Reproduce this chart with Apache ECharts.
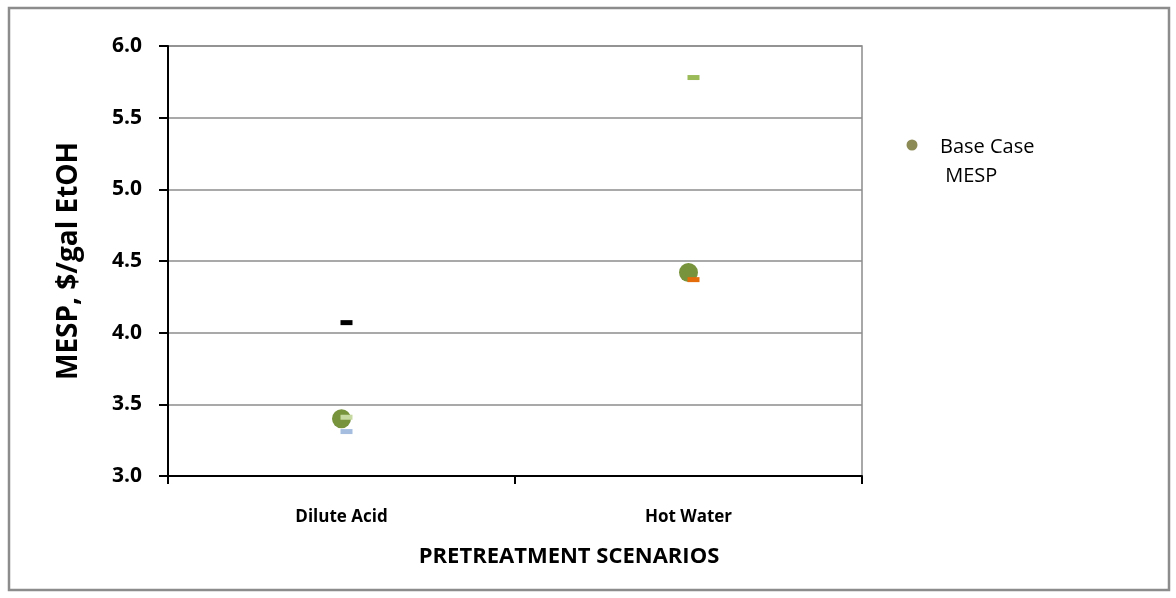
<!DOCTYPE html>
<html>
<head>
<meta charset="utf-8">
<script src="https://cdn.jsdelivr.net/npm/echarts@6/dist/echarts.min.js"></script>
<style>
  html, body { margin: 0; padding: 0; background: #fff; }
  #chart { width: 1176px; height: 598px; }
</style>
</head>
<body>
<div id="chart"></div>
<script>
// Pretreatment scenarios on the category axis
const categories = ['Dilute Acid', 'Hot Water'];
// Base case minimum ethanol selling price, $/gal
const baseCaseMESP = [3.40, 4.42];
// Individual case markers (null where a scenario has no marker)
const caseBlack = [4.07, null];
const casePaleGreen = [3.41, null];
const caseBlue = [3.31, null];
const caseOrange = [null, 4.37];
const caseGreen = [null, 5.78];
// Y axis range and step
const yMin = 3.0, yMax = 6.0, yStep = 0.5;

const FONT = 'Open Sans';

function pairs(vals) {
  return vals.map((v, i) => [categories[i], v]);
}

function dashSeries(name, vals, color) {
  return {
    name: name,
    type: 'scatter',
    data: pairs(vals),
    symbol: 'rect',
    symbolSize: [12, 5],
    symbolOffset: [5, 0],
    itemStyle: { color: color, opacity: 1 },
    z: 3
  };
}

const chart = echarts.init(document.getElementById('chart'));
chart.setOption({
  animation: false,
  backgroundColor: '#fff',
  graphic: [
    {
      type: 'rect',
      shape: { x: 9, y: 8, width: 1160, height: 582 },
      style: { fill: 'none', stroke: '#8c8c8c', lineWidth: 2.5 },
      silent: true
    },
    // Legend entry for the base case series
    {
      type: 'circle',
      shape: { cx: 912, cy: 145, r: 5.5 },
      style: { fill: '#8c8a55' },
      silent: true
    },
    {
      type: 'text',
      left: 940, top: 133,
      style: {
        text: 'Base Case\n MESP',
        font: '20px "Open Sans"',
        fill: '#000',
        lineHeight: 29
      },
      silent: true
    }
  ],
  grid: {
    left: 168, right: 314, top: 46, bottom: 122,
    show: true, borderColor: '#8c8c8c', borderWidth: 1.5
  },
  xAxis: {
    type: 'category',
    data: categories,
    boundaryGap: true,
    axisLine: { lineStyle: { color: '#000', width: 2 } },
    axisTick: { show: true, length: 8, lineStyle: { color: '#000', width: 2 } },
    axisLabel: { fontFamily: FONT, fontWeight: 'bold', fontSize: 17, color: '#000', margin: 33 },
    name: 'PRETREATMENT SCENARIOS',
    nameLocation: 'middle',
    nameGap: 70,
    nameTextStyle: {
      fontFamily: FONT, fontWeight: 'bold', fontSize: 22, color: '#000',
      padding: [0, 0, 0, 108]
    }
  },
  yAxis: {
    type: 'value',
    min: yMin, max: yMax, interval: yStep,
    axisLine: { show: true, lineStyle: { color: '#000', width: 2 } },
    axisTick: { show: true, length: 9, lineStyle: { color: '#000', width: 2 } },
    splitLine: { show: true, lineStyle: { color: '#8c8c8c', width: 1.5 } },
    axisLabel: {
      fontFamily: FONT, fontWeight: 'bold', fontSize: 21, color: '#000', margin: 26,
      formatter: v => v.toFixed(1)
    },
    name: 'MESP, $/gal EtOH',
    nameLocation: 'middle',
    nameGap: 85,
    nameTextStyle: { fontFamily: FONT, fontWeight: 'bold', fontSize: 28, color: '#000' }
  },
  series: [
    {
      name: 'Base Case MESP',
      type: 'scatter',
      data: pairs(baseCaseMESP),
      symbol: 'circle',
      symbolSize: 19,
      itemStyle: { color: '#77933c', opacity: 1 },
      z: 2
    },
    dashSeries('Case A', caseBlack, '#000000'),
    dashSeries('Case B', casePaleGreen, '#c6d9a0'),
    dashSeries('Case C', caseBlue, '#a5bee0'),
    dashSeries('Case D', caseOrange, '#e46c0a'),
    dashSeries('Case E', caseGreen, '#9bbb59')
  ]
});
</script>
</body>
</html>
